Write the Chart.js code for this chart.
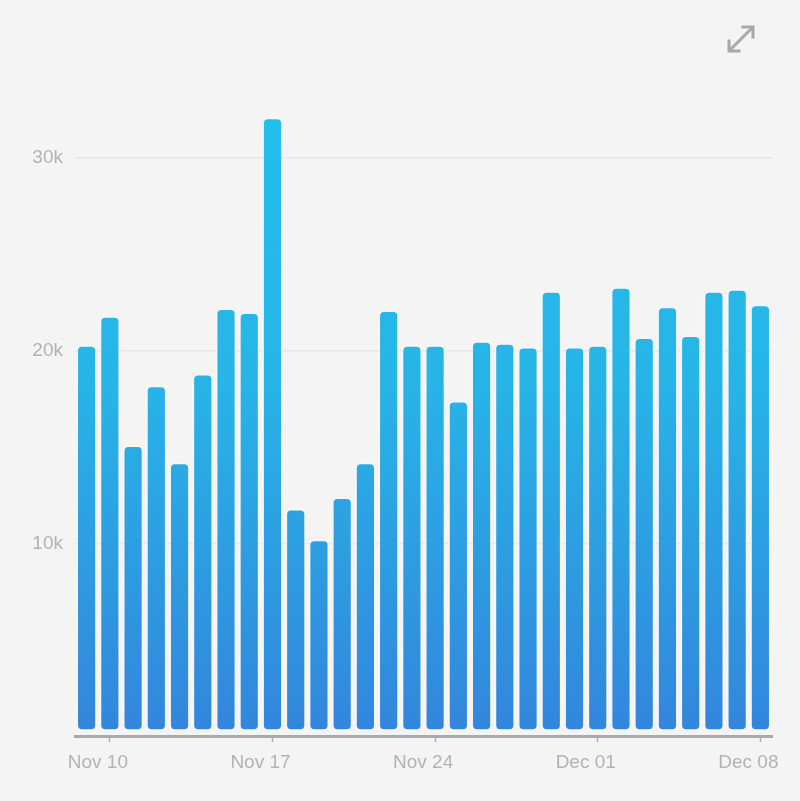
<!DOCTYPE html>
<html>
<head>
<meta charset="utf-8">
<script src="https://cdn.jsdelivr.net/npm/chart.js@4"></script>
<style>
  html, body { margin: 0; padding: 0; background: #f4f4f4; }
  #wrap { position: relative; width: 800px; height: 801px; }
  #icon { position: absolute; left: 724px; top: 22px; }
</style>
</head>
<body>
<div id="wrap">
  <canvas id="c" width="800" height="801"></canvas>
  <svg id="icon" width="34" height="34" viewBox="0 0 34 34">
    <g stroke="#a8a8a8" stroke-width="3" fill="none" stroke-linecap="square">
      <line x1="6" y1="28" x2="16" y2="18"/>
      <polyline points="5,19 5,29 15,29" />
      <line x1="28" y1="6" x2="18" y2="16"/>
      <polyline points="19,5 29,5 29,15" />
    </g>
  </svg>
</div>
<script>
const categories = [
  'Nov 09','Nov 10','Nov 11','Nov 12','Nov 13','Nov 14','Nov 15','Nov 16','Nov 17','Nov 18',
  'Nov 19','Nov 20','Nov 21','Nov 22','Nov 23','Nov 24','Nov 25','Nov 26','Nov 27','Nov 28',
  'Nov 29','Nov 30','Dec 01','Dec 02','Dec 03','Dec 04','Dec 05','Dec 06','Dec 07','Dec 08'
];
const values = [
  20200, 21700, 15000, 18100, 14100, 18700, 22100, 21900, 32000, 11700,
  10100, 12300, 14100, 22000, 20200, 20200, 17300, 20400, 20300, 20100,
  23000, 20100, 20200, 23200, 20600, 22200, 20700, 23000, 23100, 22300
];
const tickLabels = ['Nov 10', 'Nov 17', 'Nov 24', 'Dec 01', 'Dec 08'];
const yTicks = [10000, 20000, 30000];

const glow = {
  id: 'glow',
  beforeDatasetsDraw(chart) {
    chart.ctx.save();
    chart.ctx.shadowColor = 'rgba(255,255,255,0.9)';
    chart.ctx.shadowBlur = 3;
  },
  afterDatasetsDraw(chart) { chart.ctx.restore(); }
};

const labelFont = { family: '"Liberation Sans", Arial, sans-serif', size: 19 };

new Chart(document.getElementById('c'), {
  type: 'bar',
  data: {
    labels: categories,
    datasets: [{
      data: values,
      base: 350,
      borderRadius: 4,
      borderSkipped: false,
      categoryPercentage: 1,
      barPercentage: 0.74,
      backgroundColor(ctx) {
        const a = ctx.chart.chartArea;
        if (!a) return '#2aa8e6';
        const g = ctx.chart.ctx.createLinearGradient(0, a.top, 0, a.bottom);
        g.addColorStop(0, '#22c0ea');
        g.addColorStop(0.45, '#27b4e7');
        g.addColorStop(1, '#3385dc');
        return g;
      }
    }]
  },
  options: {
    responsive: false,
    animation: false,
    layout: { padding: { top: 100, right: 28, left: 0, bottom: 0 } },
    plugins: { legend: { display: false }, tooltip: { enabled: false } },
    scales: {
      x: {
        afterFit(s) { s.height = 65; },
        border: { display: true, color: '#a9a9a9', width: 3 },
        grid: {
          offset: false,
          drawOnChartArea: false,
          drawTicks: true,
          tickLength: 6,
          tickWidth: 1.5,
          color(ctx) {
            const l = categories[ctx.index];
            return tickLabels.includes(l) ? '#b0b0b0' : 'rgba(0,0,0,0)';
          }
        },
        ticks: {
          autoSkip: false,
          maxRotation: 0,
          labelOffset: -12,
          padding: 9,
          color: '#b3b3b3',
          font: labelFont,
          callback(v, i) {
            const l = categories[i];
            return tickLabels.includes(l) ? l : '';
          }
        }
      },
      y: {
        min: 0,
        max: 33000,
        afterFit(s) { s.width = 75; },
        afterBuildTicks(s) { s.ticks = yTicks.map(v => ({ value: v })); },
        border: { display: false },
        grid: { color: '#e6e6e6', lineWidth: 1.5, drawTicks: false },
        ticks: {
          padding: 12,
          color: '#b3b3b3',
          font: labelFont,
          callback(v) { return (v / 1000) + 'k'; }
        }
      }
    }
  },
  plugins: [glow]
});
</script>
</body>
</html>
